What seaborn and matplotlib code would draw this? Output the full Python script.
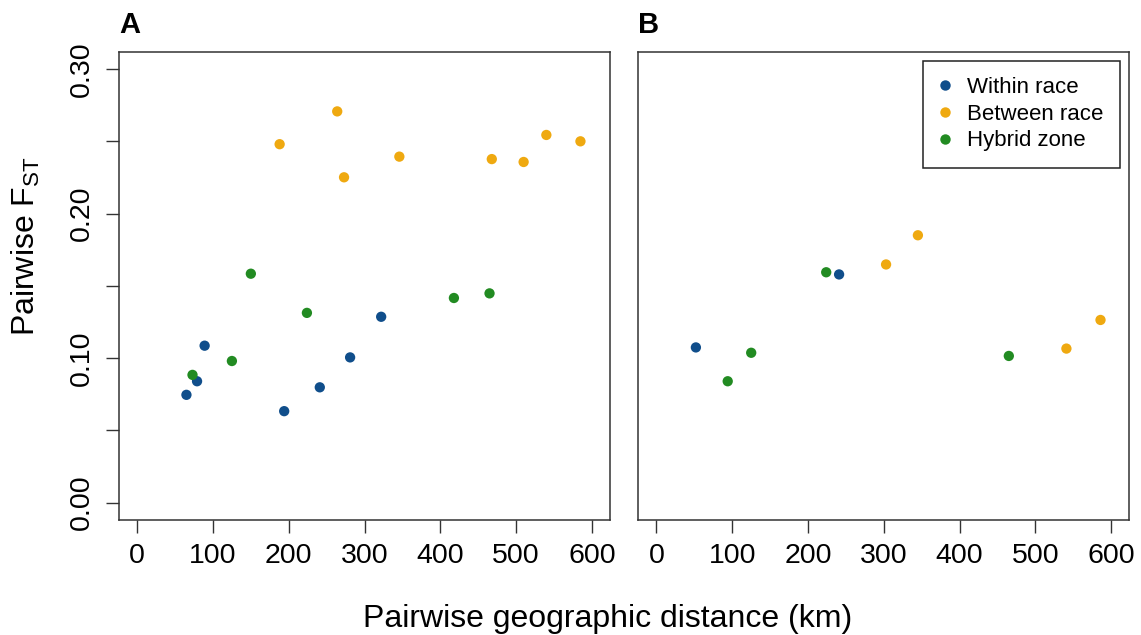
import pandas as pd
import seaborn as sns
import matplotlib.pyplot as plt
from matplotlib.lines import Line2D
from matplotlib.ticker import MultipleLocator, FuncFormatter

# Visual style (base-R look)
sns.set_style("ticks")
plt.rcParams['font.family'] = ['Liberation Sans', 'DejaVu Sans']
plt.rcParams['mathtext.fontset'] = 'custom'
plt.rcParams['mathtext.rm'] = 'Liberation Sans'
plt.rcParams['mathtext.it'] = 'Liberation Sans:italic'
plt.rcParams['text.color'] = 'black'
plt.rcParams['xtick.labelcolor'] = 'black'
plt.rcParams['ytick.labelcolor'] = 'black'

# Panel A values (km, pairwise FST)
within_a_km = [65, 79, 89, 194, 241, 281, 322]
within_a_fst = [0.0746, 0.0840, 0.1086, 0.0633, 0.0798, 0.1005, 0.1286]
between_a_km = [188, 264, 273, 346, 468, 510, 540, 585]
between_a_fst = [0.2480, 0.2707, 0.2251, 0.2394, 0.2377, 0.2357, 0.2544, 0.2500]
hybrid_a_km = [73, 125, 150, 224, 418, 465]
hybrid_a_fst = [0.0884, 0.0980, 0.1584, 0.1313, 0.1416, 0.1448]

# Panel B values
within_b_km = [52, 241]
within_b_fst = [0.1074, 0.1579]
between_b_km = [303, 345, 541, 586]
between_b_fst = [0.1648, 0.1850, 0.1066, 0.1264]
hybrid_b_km = [94, 125, 224, 465]
hybrid_b_fst = [0.0840, 0.1037, 0.1594, 0.1015]

groups = ["Within race", "Between race", "Hybrid zone"]
colors = ["#104E8B", "#EFA910", "#228B22"]
x_ticks = [0, 100, 200, 300, 400, 500, 600]


def make_frame(within, between, hybrid):
    rows = []
    for name, (km, fst) in zip(groups, [within, between, hybrid]):
        for k, f in zip(km, fst):
            rows.append({"km": k, "fst": f, "comparison": name})
    return pd.DataFrame(rows)


df_a = make_frame((within_a_km, within_a_fst), (between_a_km, between_a_fst),
                  (hybrid_a_km, hybrid_a_fst))
df_b = make_frame((within_b_km, within_b_fst), (between_b_km, between_b_fst),
                  (hybrid_b_km, hybrid_b_fst))

W, H = 1141, 635
fig = plt.figure(figsize=(W / 100, H / 100), dpi=100)
ax_a = fig.add_axes([119 / W, 1 - 520 / H, 491 / W, 468.3 / H])
ax_b = fig.add_axes([638.3 / W, 1 - 520 / H, 491 / W, 468.3 / H])

edge = "#333333"
for ax, df in [(ax_a, df_a), (ax_b, df_b)]:
    sns.scatterplot(data=df, x="km", y="fst", hue="comparison", hue_order=groups,
                    palette=colors, s=55, linewidth=0, ax=ax, legend=False, zorder=3)
    ax.set_xlim(-24, 624)
    ax.set_ylim(-0.012, 0.312)
    ax.set_xticks(x_ticks)
    ax.set_xticklabels([str(t) for t in x_ticks])
    ax.set_xlabel("")
    ax.set_ylabel("")
    for sp in ax.spines.values():
        sp.set_visible(True)
        sp.set_color(edge)
        sp.set_linewidth(1.1)
    ax.tick_params(axis="x", length=9.5, width=1.0, color=edge, labelsize=20.5, pad=7)

# y axis only on panel A
ax_a.yaxis.set_major_locator(MultipleLocator(0.05))
ax_a.yaxis.set_major_formatter(FuncFormatter(
    lambda v, p: f"{v:.2f}" if abs(round(v / 0.1) * 0.1 - v) < 1e-6 else ""))
ax_a.tick_params(axis="y", length=9.5, width=1.0, color=edge, labelsize=20.5, pad=8)
for lab in ax_a.get_yticklabels():
    lab.set_rotation(90)
    lab.set_va("center")
ax_b.set_yticks([])

# legend on panel B
handles = [Line2D([], [], marker="o", linestyle="", markersize=7.5,
                  markerfacecolor=c, markeredgewidth=0) for c in colors]
leg = ax_b.legend(handles, groups, loc="upper right", fontsize=16, frameon=True,
                  fancybox=False, edgecolor="#222222", framealpha=1,
                  handletextpad=0.74, handlelength=0.5, borderpad=0.75,
                  labelspacing=0.25, borderaxespad=0.4)
leg.get_frame().set_linewidth(1.1)

# panel letters
fig.text(119 / W, 1 - 33 / H, "A", fontsize=21, fontweight="bold", ha="left", va="baseline")
fig.text(638 / W, 1 - 33 / H, "B", fontsize=21, fontweight="bold", ha="left", va="baseline")

# axis titles
fig.text(608 / W, 1 - 626.7 / H, "Pairwise geographic distance (km)", fontsize=23,
         ha="center", va="baseline")
fig.text(35 / W, 1 - 246 / H, r"Pairwise F$_{\mathrm{ST}}$", fontsize=23, rotation=90,
         rotation_mode="anchor", ha="center", va="baseline")

fig.savefig("out.png", dpi=100)
